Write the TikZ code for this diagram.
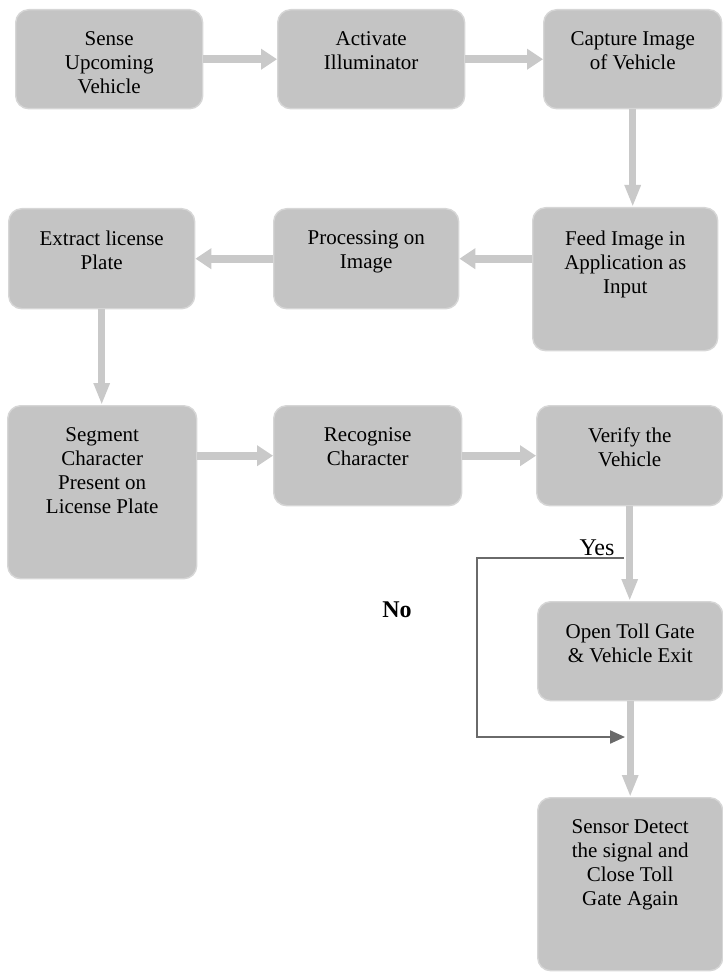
\documentclass[tikz,border=0pt]{standalone}
\usepackage{fontspec}
\setmainfont{Liberation Serif}
\usepackage{xcolor}
\usepackage{tikz}
\usetikzlibrary{arrows.meta, positioning, calc}

\definecolor{boxgray}{HTML}{C4C4C4}
\definecolor{boxedge}{HTML}{D6D6D6}
\definecolor{flowgray}{HTML}{C9C9C9}
\definecolor{retgray}{HTML}{6A6A6A}

% text sits at the top of each box
\newcommand{\boxtext}[3]{\parbox[t][#2][t]{#1}{\centering #3}}

\begin{document}
\begin{tikzpicture}[
    x=1pt, y=1pt,
    proc/.style={draw=boxedge, line width=1.4pt, fill=boxgray, rounded corners=13pt, inner sep=0pt, anchor=north west, font=\fontsize{21}{24}\selectfont},
    flow/.style={line width=8pt, draw=flowgray, -{Triangle[length=16pt, width=20pt]}},
    down/.style={line width=7pt, draw=flowgray, -{Triangle[length=22pt, width=15pt]}},
    retline/.style={line width=2.2pt, draw=retgray, -{Triangle[length=15pt, width=13pt]}}
]
    \useasboundingbox (0,0) rectangle (722,-976);

    % Boxes
    \node (sense) [proc, minimum width=187pt, minimum height=99pt] at (15,-9) {\boxtext{167pt}{55pt}{Sense\\Upcoming\\Vehicle}};
    \node (act) [proc, minimum width=187pt, minimum height=99pt] at (277,-9) {\boxtext{167pt}{55pt}{Activate\\Illuminator}};
    \node (capt) [proc, minimum width=178pt, minimum height=99pt] at (543,-9) {\boxtext{160pt}{55pt}{Capture Image\\of Vehicle}};
    \node (feed) [proc, minimum width=185pt, minimum height=143pt] at (532,-207) {\boxtext{165pt}{97pt}{Feed Image in\\Application as\\Input}};
    \node (imgproc) [proc, minimum width=185pt, minimum height=100pt] at (273,-208) {\boxtext{165pt}{56pt}{Processing on\\Image}};
    \node (extract) [proc, minimum width=186pt, minimum height=100pt] at (8,-208) {\boxtext{166pt}{56pt}{Extract license\\Plate}};
    \node (segment) [proc, minimum width=189pt, minimum height=173pt] at (7,-405) {\boxtext{169pt}{129pt}{Segment\\Character\\Present on\\License Plate}};
    \node (recog) [proc, minimum width=188pt, minimum height=100pt] at (273,-405) {\boxtext{168pt}{56pt}{Recognise\\Character}};
    \node (verify) [proc, minimum width=186pt, minimum height=100pt] at (536,-405) {\boxtext{166pt}{56pt}{Verify the\\Vehicle}};
    \node (open) [proc, minimum width=185pt, minimum height=99pt] at (537,-601) {\boxtext{165pt}{55pt}{Open Toll Gate\\\& Vehicle Exit}};
    \node (sensor) [proc, minimum width=185pt, minimum height=173pt] at (537,-797) {\boxtext{165pt}{129pt}{Sensor Detect\\the signal and\\Close Toll\\Gate Again}};

    % Return path for a rejected vehicle
    \coordinate (yesend) at (624,-558);
    \coordinate (nocorner) at (477,-737);
    \coordinate (noend) at (625,-737);
    \draw [retline] (yesend) -| (nocorner) -- (noend);

    % Flows
    \draw [flow] (sense) -- (act);
    \draw [flow] (act) -- (capt);
    \draw [down] (capt.south) -- (capt.south |- feed.north);
    \draw [flow] (feed.west |- imgproc) -- (imgproc.east);
    \draw [flow] (imgproc) -- (extract);
    \draw [down] (extract.south) -- (extract.south |- segment.north);
    \draw [flow] (segment.east |- recog) -- (recog.west);
    \draw [flow] (recog) -- (verify);
    \draw [down] (verify.south) -- (verify.south |- open.north);
    \draw [down] (open.south) -- (open.south |- sensor.north);

    % Labels
    \node (yes) [anchor=base, font=\fontsize{24}{28}\selectfont] at (597,-555) {Yes};
    \node (no) [anchor=base, font=\bfseries\fontsize{24}{28}\selectfont] at (397,-617) {No};

\end{tikzpicture}
\end{document}
